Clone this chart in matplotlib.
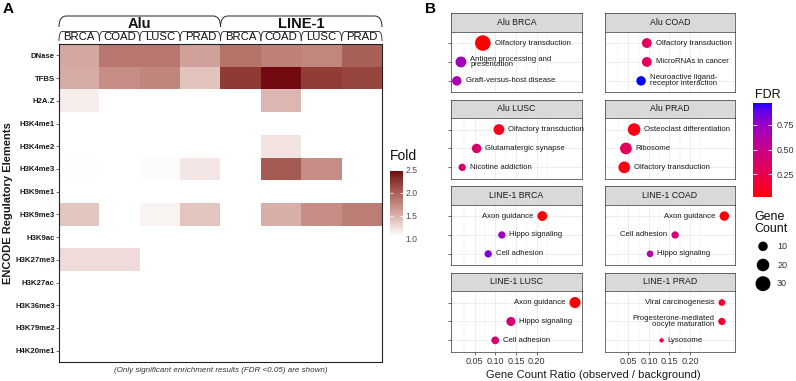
import matplotlib.pyplot as plt
import matplotlib.colors as mcolors
import matplotlib.transforms as mtransforms
from matplotlib.path import Path
from matplotlib.patches import PathPatch
import numpy as np

plt.rcParams['font.family'] = ['Liberation Sans', 'DejaVu Sans']

W, H = 796, 381  # output size in px (dpi 100)

# ---------------- panel A data ----------------
elements = ['DNase', 'TFBS', 'H2A.Z', 'H3K4me1', 'H3K4me2', 'H3K4me3', 'H3K9me1',
            'H3K9me3', 'H3K9ac', 'H3K27me3', 'H3K27ac', 'H3K36me3', 'H3K79me2', 'H4K20me1']
repeats = ['Alu', 'LINE-1']
cancers = ['BRCA', 'COAD', 'LUSC', 'PRAD']
n = np.nan
# columns: Alu BRCA, COAD, LUSC, PRAD, LINE-1 BRCA, COAD, LUSC, PRAD
fold = np.array([
    [1.56, 1.85, 1.85, 1.60, 1.88, 1.79, 1.75, 1.99],
    [1.54, 1.72, 1.76, 1.40, 2.22, 2.46, 2.20, 2.15],
    [1.16, n, n, n, n, 1.47, n, n],
    [n, n, n, n, n, n, n, n],
    [n, n, n, n, n, 1.22, n, n],
    [1.06, n, 1.08, 1.20, n, 2.02, 1.72, n],
    [n, n, n, n, n, n, n, n],
    [1.39, n, 1.13, 1.39, n, 1.52, 1.72, 1.81],
    [n, n, n, n, n, n, n, n],
    [1.26, 1.26, n, n, n, n, n, n],
    [n, n, n, n, n, n, n, n],
    [n, n, n, n, n, n, n, n],
    [n, n, n, n, n, n, n, n],
    [n, n, n, n, n, n, n, n],
])
fold_breaks = [1.0, 1.5, 2.0, 2.5]

# ---------------- panel B data ----------------
facets = ['Alu BRCA', 'Alu COAD', 'Alu LUSC', 'Alu PRAD',
          'LINE-1 BRCA', 'LINE-1 COAD', 'LINE-1 LUSC', 'LINE-1 PRAD']
terms = [
    ['Olfactory transduction', 'Antigen processing and\npresentation', 'Graft-versus-host disease'],
    ['Olfactory transduction', 'MicroRNAs in cancer', 'Neuroactive ligand-\nreceptor interaction'],
    ['Olfactory transduction', 'Glutamatergic synapse', 'Nicotine addiction'],
    ['Osteoclast differentiation', 'Ribosome', 'Olfactory transduction'],
    ['Axon guidance', 'Hippo signaling', 'Cell adhesion'],
    ['Axon guidance', 'Cell adhesion', 'Hippo signaling'],
    ['Axon guidance', 'Hippo signaling', 'Cell adhesion'],
    ['Viral carcinogenesis', 'Progesterone-mediated\noocyte maturation', 'Lysosome'],
]
ratio = [
    [0.070, 0.017, 0.007],
    [0.095, 0.095, 0.081],
    [0.109, 0.055, 0.020],
    [0.064, 0.044, 0.040],
    [0.214, 0.116, 0.083],
    [0.284, 0.164, 0.103],
    [0.293, 0.138, 0.100],
    [0.278, 0.278, 0.131],
]
gene_count = [
    [33, 14, 10],
    [11, 11, 10],
    [14, 10, 5],
    [20, 17, 17],
    [11, 5, 5],
    [10, 5, 4],
    [15, 9, 6],
    [4, 5, 1],
]
fdr = [
    [0.02, 0.70, 0.66],
    [0.30, 0.30, 0.97],
    [0.08, 0.38, 0.36],
    [0.05, 0.30, 0.06],
    [0.03, 0.72, 0.82],
    [0.04, 0.42, 0.62],
    [0.03, 0.42, 0.42],
    [0.13, 0.13, 0.26],
]
label_side = [
    ['r', 'r', 'r'], ['r', 'r', 'r'], ['r', 'r', 'r'], ['r', 'r', 'r'],
    ['l', 'r', 'r'], ['l', 'l', 'r'], ['l', 'r', 'r'], ['l', 'l', 'r'],
]
ratio_ticks = [0.05, 0.10, 0.15, 0.20]
count_breaks = [10, 20, 30]
fdr_breaks = [0.25, 0.50, 0.75]


# ---- colour helpers (ggplot style Lab gradient) ----
M = np.array([[0.4124, 0.3576, 0.1805], [0.2126, 0.7152, 0.0722], [0.0193, 0.1192, 0.9505]])
WHITE = np.array([0.95047, 1.0, 1.08883])


def to_lab(col):
    rgb = np.array(mcolors.to_rgb(col))
    lin = np.where(rgb <= 0.04045, rgb / 12.92, ((rgb + 0.055) / 1.055) ** 2.4)
    xyz = M @ lin / WHITE
    f = np.where(xyz > 0.008856, np.cbrt(xyz), 7.787 * xyz + 16 / 116)
    return np.array([116 * f[1] - 16, 500 * (f[0] - f[1]), 200 * (f[1] - f[2])])


def from_lab(lab):
    fy = (lab[:, 0] + 16) / 116
    f = np.stack([fy + lab[:, 1] / 500, fy, fy - lab[:, 2] / 200], 1)
    xyz = np.where(f ** 3 > 0.008856, f ** 3, (f - 16 / 116) / 7.787) * WHITE
    lin = np.clip(xyz @ np.linalg.inv(M).T, 0, None)
    rgb = np.where(lin <= 0.0031308, 12.92 * lin, 1.055 * lin ** (1 / 2.4) - 0.055)
    return np.clip(rgb, 0, 1)


def lab_cmap(c0, c1, N=256):
    t = np.linspace(0, 1, N)[:, None]
    return mcolors.ListedColormap(from_lab(to_lab(c0) * (1 - t) + to_lab(c1) * t))


def px_axes(x0, y0, x1, y1):
    return fig.add_axes([x0 / W, 1 - y1 / H, (x1 - x0) / W, (y1 - y0) / H])


def dot_px(c):
    return 2 + 2.36 * np.sqrt(np.asarray(c, dtype=float))


fig = plt.figure(figsize=(W / 100, H / 100), dpi=100)

# ======================= panel A =======================
fold_cmap = lab_cmap('#ffffff', '#730a12').with_extremes(bad='white')
fmin, fmax = np.nanmin(fold), np.nanmax(fold)
axA = px_axes(59, 44, 382, 362)
axA.imshow(np.ma.masked_invalid(fold), cmap=fold_cmap, vmin=fmin, vmax=fmax,
           aspect='auto', interpolation='nearest')
axA.set_xticks([])
axA.set_yticks(range(len(elements)))
axA.set_yticklabels(elements, fontsize=5.6, fontweight='bold', color='#1a1a1a')
axA.tick_params(axis='y', length=2, width=0.5, pad=1, color='#333333')
for s in axA.spines.values():
    s.set_linewidth(0.8)
    s.set_color('#222222')

# nested column header with round brackets
tr = mtransforms.blended_transform_factory(axA.transData, fig.transFigure)


def bracket(x0, x1, ytop, ybot, dx, lw):
    yt, yb = 1 - ytop / H, 1 - ybot / H
    verts = [(x0, yb), (x0, yt), (x0 + dx, yt), (x1 - dx, yt), (x1, yt), (x1, yb)]
    codes = [Path.MOVETO, Path.CURVE3, Path.CURVE3, Path.LINETO, Path.CURVE3, Path.CURVE3]
    fig.add_artist(PathPatch(Path(verts, codes), transform=tr, fill=False,
                             lw=lw, edgecolor='#222222'))


ncan = len(cancers)
for i, rep in enumerate(repeats):
    x0 = i * ncan - 0.5
    bracket(x0, x0 + ncan, 16, 27, 0.18, 0.7)
    fig.text(x0 + ncan / 2, 1 - 23.5 / H, rep, transform=tr, ha='center', va='center',
             fontsize=10.5, fontweight='bold', color='#111111')
    for j, can in enumerate(cancers):
        xc = i * ncan + j
        bracket(xc - 0.5, xc + 0.5, 31.5, 41, 0.08, 0.6)
        fig.text(xc, 1 - 37 / H, can, transform=tr, ha='center', va='center',
                 fontsize=8.2, color='#111111')

fig.text(8 / W, 1 - 203 / H, 'ENCODE Regulatory Elements', rotation=90, ha='center',
         va='center', fontsize=8, fontweight='bold', color='#1a1a1a')
fig.text(220.5 / W, 1 - 371 / H, '(Only significant enrichment results (FDR <0.05) are shown)',
         ha='center', va='center', fontsize=5.8, style='italic', color='#333333')

# Fold colour bar
axF = px_axes(390, 169.7, 403, 239)
grad = np.linspace(fmin, fmax, 256)[:, None]
axF.imshow(grad, cmap=fold_cmap, vmin=fmin, vmax=fmax, aspect='auto', origin='lower',
           extent=[0, 1, fmin, fmax])
axF.set_xlim(0, 1)
axF.set_ylim(fold_breaks[0], fold_breaks[-1])
axF.set_xticks([])
axF.yaxis.tick_right()
axF.set_yticks(fold_breaks)
axF.set_yticklabels(['%.1f' % b for b in fold_breaks], fontsize=6.2, color='#4d4d4d')
axF.tick_params(axis='y', length=0, pad=2)
for b in fold_breaks:
    if fmin < b < fmax:
        axF.hlines(b, 0, 0.2, color='white', lw=0.6)
        axF.hlines(b, 0.8, 1, color='white', lw=0.6)
for s in axF.spines.values():
    s.set_visible(False)
fig.text(390 / W, 1 - 156 / H, 'Fold', ha='left', va='center', fontsize=10, color='#111111')

fig.text(3 / W, 1 - 9 / H, 'A', ha='left', va='center', fontsize=11, fontweight='bold')
fig.text(425 / W, 1 - 9 / H, 'B', ha='left', va='center', fontsize=11, fontweight='bold')

# ======================= panel B =======================
fdr_all = np.concatenate(fdr)
fdr_lo, fdr_hi = fdr_all.min(), fdr_all.max()
fdr_cmap = lab_cmap('#ff0000', '#0000ff')
fdr_norm = mcolors.Normalize(fdr_lo, fdr_hi)

col_x = [(451, 582), (605, 735)]
xlim = (-0.007, 0.31)
for k, name in enumerate(facets):
    r, c = divmod(k, 2)
    x0, x1 = col_x[c]
    top = 13 + r * 86.5
    strip = px_axes(x0, top, x1, top + 18.7)
    strip.set_facecolor('#d9d9d9')
    strip.set_xticks([])
    strip.set_yticks([])
    for s in strip.spines.values():
        s.set_color('#333333')
        s.set_linewidth(0.5)
    strip.text(0.5, 0.5, name, ha='center', va='center', fontsize=6.3, color='#1a1a1a',
               transform=strip.transAxes)

    ax = px_axes(x0, top + 18.7, x1, top + 79.2)
    ypos = [3, 2, 1]
    cols = fdr_cmap(fdr_norm(fdr[k]))
    sizes = (dot_px(gene_count[k]) * 0.72) ** 2
    ax.scatter(ratio[k], ypos, s=sizes, c=cols, linewidths=0, zorder=3)
    for t, xv, yv, cnt, sd in zip(terms[k], ratio[k], ypos, gene_count[k], label_side[k]):
        off = (dot_px(cnt) / 2 + 4) * 0.72
        ax.annotate(t, (xv, yv), xytext=(off if sd == 'r' else -off, 0),
                    textcoords='offset points', ha='left' if sd == 'r' else 'right',
                    va='center', fontsize=5.6, color='#1a1a1a', linespacing=0.75,
                    multialignment='left' if sd == 'r' else 'right', zorder=4)
    ax.set_xlim(xlim)
    ax.set_ylim(0.4, 3.6)
    ax.set_xticks(ratio_ticks)
    ax.set_xticks([0.025, 0.075, 0.125, 0.175, 0.225], minor=True)
    ax.set_yticks(ypos)
    ax.grid(True, which='major', color='#ebebeb', lw=0.6)
    ax.grid(True, which='minor', axis='x', color='#ebebeb', lw=0.3)
    ax.set_axisbelow(True)
    ax.tick_params(which='minor', length=0)
    ax.tick_params(axis='y', labelleft=False, length=2 if c == 0 else 0, width=0.5,
                   color='#333333')
    if r == 3:
        ax.set_xticklabels(['%.2f' % v for v in ratio_ticks], fontsize=6.5, color='#333333')
        ax.tick_params(axis='x', length=2, width=0.5, pad=1.5, color='#333333')
    else:
        ax.tick_params(axis='x', labelbottom=False, length=0)
    for s in ax.spines.values():
        s.set_color('#333333')
        s.set_linewidth(0.5)

fig.text(593 / W, 1 - 375 / H, 'Gene Count Ratio (observed / background)', ha='center',
         va='center', fontsize=8, color='#1a1a1a')

# FDR colour bar
axC = px_axes(753, 103, 772, 197)
g = np.linspace(fdr_lo, fdr_hi, 256)[:, None]
axC.imshow(g, cmap=fdr_cmap, norm=fdr_norm, aspect='auto', origin='lower',
           extent=[0, 1, fdr_lo, fdr_hi])
axC.set_xlim(0, 1)
axC.set_ylim(fdr_lo, fdr_hi)
axC.set_xticks([])
axC.yaxis.tick_right()
axC.set_yticks(fdr_breaks)
axC.set_yticklabels(['%.2f' % b for b in fdr_breaks], fontsize=6.5, color='#333333')
axC.tick_params(axis='y', length=0, pad=3)
for b in fdr_breaks:
    axC.hlines(b, 0, 0.2, color='white', lw=0.6)
    axC.hlines(b, 0.8, 1, color='white', lw=0.6)
for s in axC.spines.values():
    s.set_visible(False)
fig.text(755 / W, 1 - 95 / H, 'FDR', ha='left', va='center', fontsize=9, color='#111111')

# Gene count size legend
fig.text(754 / W, 1 - 223 / H, 'Gene\nCount', ha='left', va='center', fontsize=9,
         linespacing=0.95, color='#111111')
axS = px_axes(752, 237, 796, 293)
ly = [2.5, 1.5, 0.5]
axS.scatter([0.25] * 3, ly, s=(dot_px(count_breaks) * 0.72) ** 2, c='black', linewidths=0)
for b, yv in zip(count_breaks, ly):
    axS.text(0.57, yv, str(b), ha='left', va='center', fontsize=6.5, color='#333333')
axS.set_xlim(0, 1)
axS.set_ylim(0, 3)
axS.axis('off')

fig.savefig('out.png', dpi=100)
